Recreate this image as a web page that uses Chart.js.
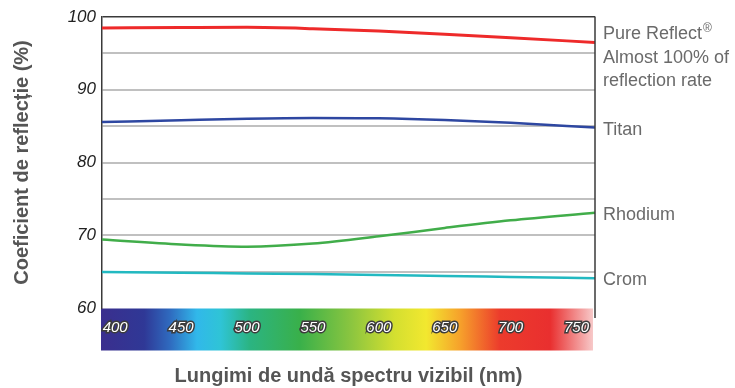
<!DOCTYPE html>
<html>
<head>
<meta charset="utf-8">
<script src="https://cdn.jsdelivr.net/npm/chart.js@4/dist/chart.umd.min.js"></script>
<style>
  html, body { margin: 0; padding: 0; background: #fff; }
  #wrap { width: 735px; height: 388px; position: relative; }
</style>
</head>
<body>
<div id="wrap"><canvas id="grafic"></canvas></div>
<script>
// lungimi de unda (nm) si valorile (%)
const wavelengths = [390, 450, 500, 550, 600, 650, 700, 764];
const pureReflect = [98.5, 98.55, 98.58, 98.4, 98.08, 97.62, 97.15, 96.5];
const titan = [85.55, 85.82, 86.03, 86.13, 86.08, 85.84, 85.45, 84.8];
const rhodium = [69.4, 68.72, 68.42, 68.85, 69.85, 71.0, 72.05, 73.1];
const crom = [64.95, 64.85, 64.75, 64.67, 64.55, 64.4, 64.27, 64.1];

const xTicks = [400, 450, 500, 550, 600, 650, 700, 750];
const yMin = 60, yMax = 100, yStep = 5;

const seriesNames = [
  ['Pure Reflect®', 'Almost 100% of', 'reflection rate'],
  ['Titan'],
  ['Rhodium'],
  ['Crom']
];
const seriesColors = ['#ee2a2a', '#2e47a1', '#41ad4a', '#22b9c1'];
const seriesData = [pureReflect, titan, rhodium, crom];

// culorile benzii de spectru (nm -> culoare)
const spectrum = [
  [390, '#3a2f8e'], [422, '#2f3896'], [442, '#2f6cc0'], [462, '#31b8ea'],
  [480, '#2fc4d6'], [502, '#2bb482'], [540, '#39b04a'], [580, '#8dc63f'],
  [612, '#d4df30'], [636, '#f2e82f'], [662, '#f6a02b'], [692, '#ec3b2c'],
  [730, '#e92f2f'], [764, '#f7c9c9']
];

const FONT = '"Liberation Sans", Arial, sans-serif';

const spectruPlugin = {
  id: 'spectru',
  beforeDraw(chart) {
    const { ctx, chartArea, scales } = chart;
    const x = scales.x;
    const left = chartArea.left - 1, right = chartArea.right - 2;
    const g = ctx.createLinearGradient(left, 0, right, 0);
    spectrum.forEach(([nm, c]) => {
      const p = (x.getPixelForValue(nm) - left) / (right - left);
      g.addColorStop(Math.min(1, Math.max(0, p)), c);
    });
    ctx.save();
    ctx.fillStyle = g;
    ctx.fillRect(left, chartArea.bottom + 0.5, right - left, 42);
    ctx.restore();
  },
  afterDraw(chart) {
    const { ctx, chartArea, scales } = chart;
    ctx.save();
    // rama dreapta
    ctx.strokeStyle = '#3a3a3a';
    ctx.lineWidth = 1.5;
    ctx.beginPath();
    ctx.moveTo(chartArea.right, chartArea.top - 0.5);
    ctx.lineTo(chartArea.right, chartArea.bottom + 10);
    ctx.stroke();
    // etichete serii in dreapta
    ctx.fillStyle = '#6a6a6a';
    ctx.textBaseline = 'middle';
    const x0 = chartArea.right + 8;
    seriesNames.forEach((lines, i) => {
      const data = seriesData[i];
      const yEnd = scales.y.getPixelForValue(data[data.length - 1]);
      const start = lines.length > 1 ? yEnd - 8 : yEnd + 2;
      lines.forEach((t, k) => {
        const y = start + k * 23.5;
        ctx.font = '18px ' + FONT;
        if (t.endsWith('®')) {
          const base = t.slice(0, -1);
          ctx.fillText(base, x0, y);
          const w = ctx.measureText(base).width;
          ctx.font = '12px ' + FONT;
          ctx.fillText('®', x0 + w + 1, y - 6);
        } else {
          ctx.fillText(t, x0, y);
        }
      });
    });
    ctx.restore();
  }
};

new Chart(document.getElementById('grafic'), {
  type: 'line',
  data: {
    datasets: seriesData.map((vals, i) => ({
      label: seriesNames[i].join(' '),
      data: vals.map((v, k) => ({ x: wavelengths[k], y: v })),
      borderColor: seriesColors[i],
      borderWidth: i === 0 ? 3 : 2.5,
      pointRadius: 0,
      tension: 0.4,
      cubicInterpolationMode: 'monotone',
      fill: false
    }))
  },
  options: {
    responsive: true,
    maintainAspectRatio: false,
    animation: false,
    layout: { padding: { top: 17, right: 140, left: 0, bottom: 0 } },
    plugins: { legend: { display: false }, tooltip: { enabled: false } },
    scales: {
      x: {
        type: 'linear',
        min: wavelengths[0],
        max: wavelengths[wavelengths.length - 1],
        afterBuildTicks: (s) => { s.ticks = xTicks.map((v) => ({ value: v })); },
        afterFit: (s) => { s.height = 80; },
        grid: { display: false, drawTicks: false },
        border: { display: false },
        ticks: {
          padding: 11,
          color: '#ffffff',
          textStrokeColor: '#3c3c3c',
          textStrokeWidth: 3,
          maxRotation: 0,
          font: { family: FONT, size: 15, style: 'italic' }
        },
        title: {
          display: true,
          text: 'Lungimi de undă spectru vizibil (nm)',
          color: '#555',
          padding: { top: 0, bottom: 0 },
          font: { family: FONT, size: 20, weight: 'bold' }
        }
      },
      y: {
        min: yMin,
        max: yMax,
        afterFit: (s) => { s.width = 102; },
        ticks: {
          stepSize: yStep,
          padding: 6,
          color: '#222',
          callback: (v) => (v % 10 === 0 ? v : ''),
          font: { family: FONT, size: 17, style: 'italic' }
        },
        grid: {
          drawTicks: false,
          lineWidth: (c) => (c.tick && c.tick.value === yMax ? 1.5 : 2),
          color: (c) => {
            const v = c.tick ? c.tick.value : 0;
            if (v === yMax) return '#3a3a3a';
            if (v === yMin) return 'rgba(0,0,0,0)';
            return '#c0c0c0';
          }
        },
        border: { display: true, color: '#3a3a3a', width: 1.5 },
        title: {
          display: true,
          text: 'Coeficient de reflecție (%)',
          color: '#555',
          padding: { top: 10, bottom: 0 },
          font: { family: FONT, size: 20, weight: 'bold' }
        }
      }
    }
  },
  plugins: [spectruPlugin]
});
</script>
</body>
</html>
